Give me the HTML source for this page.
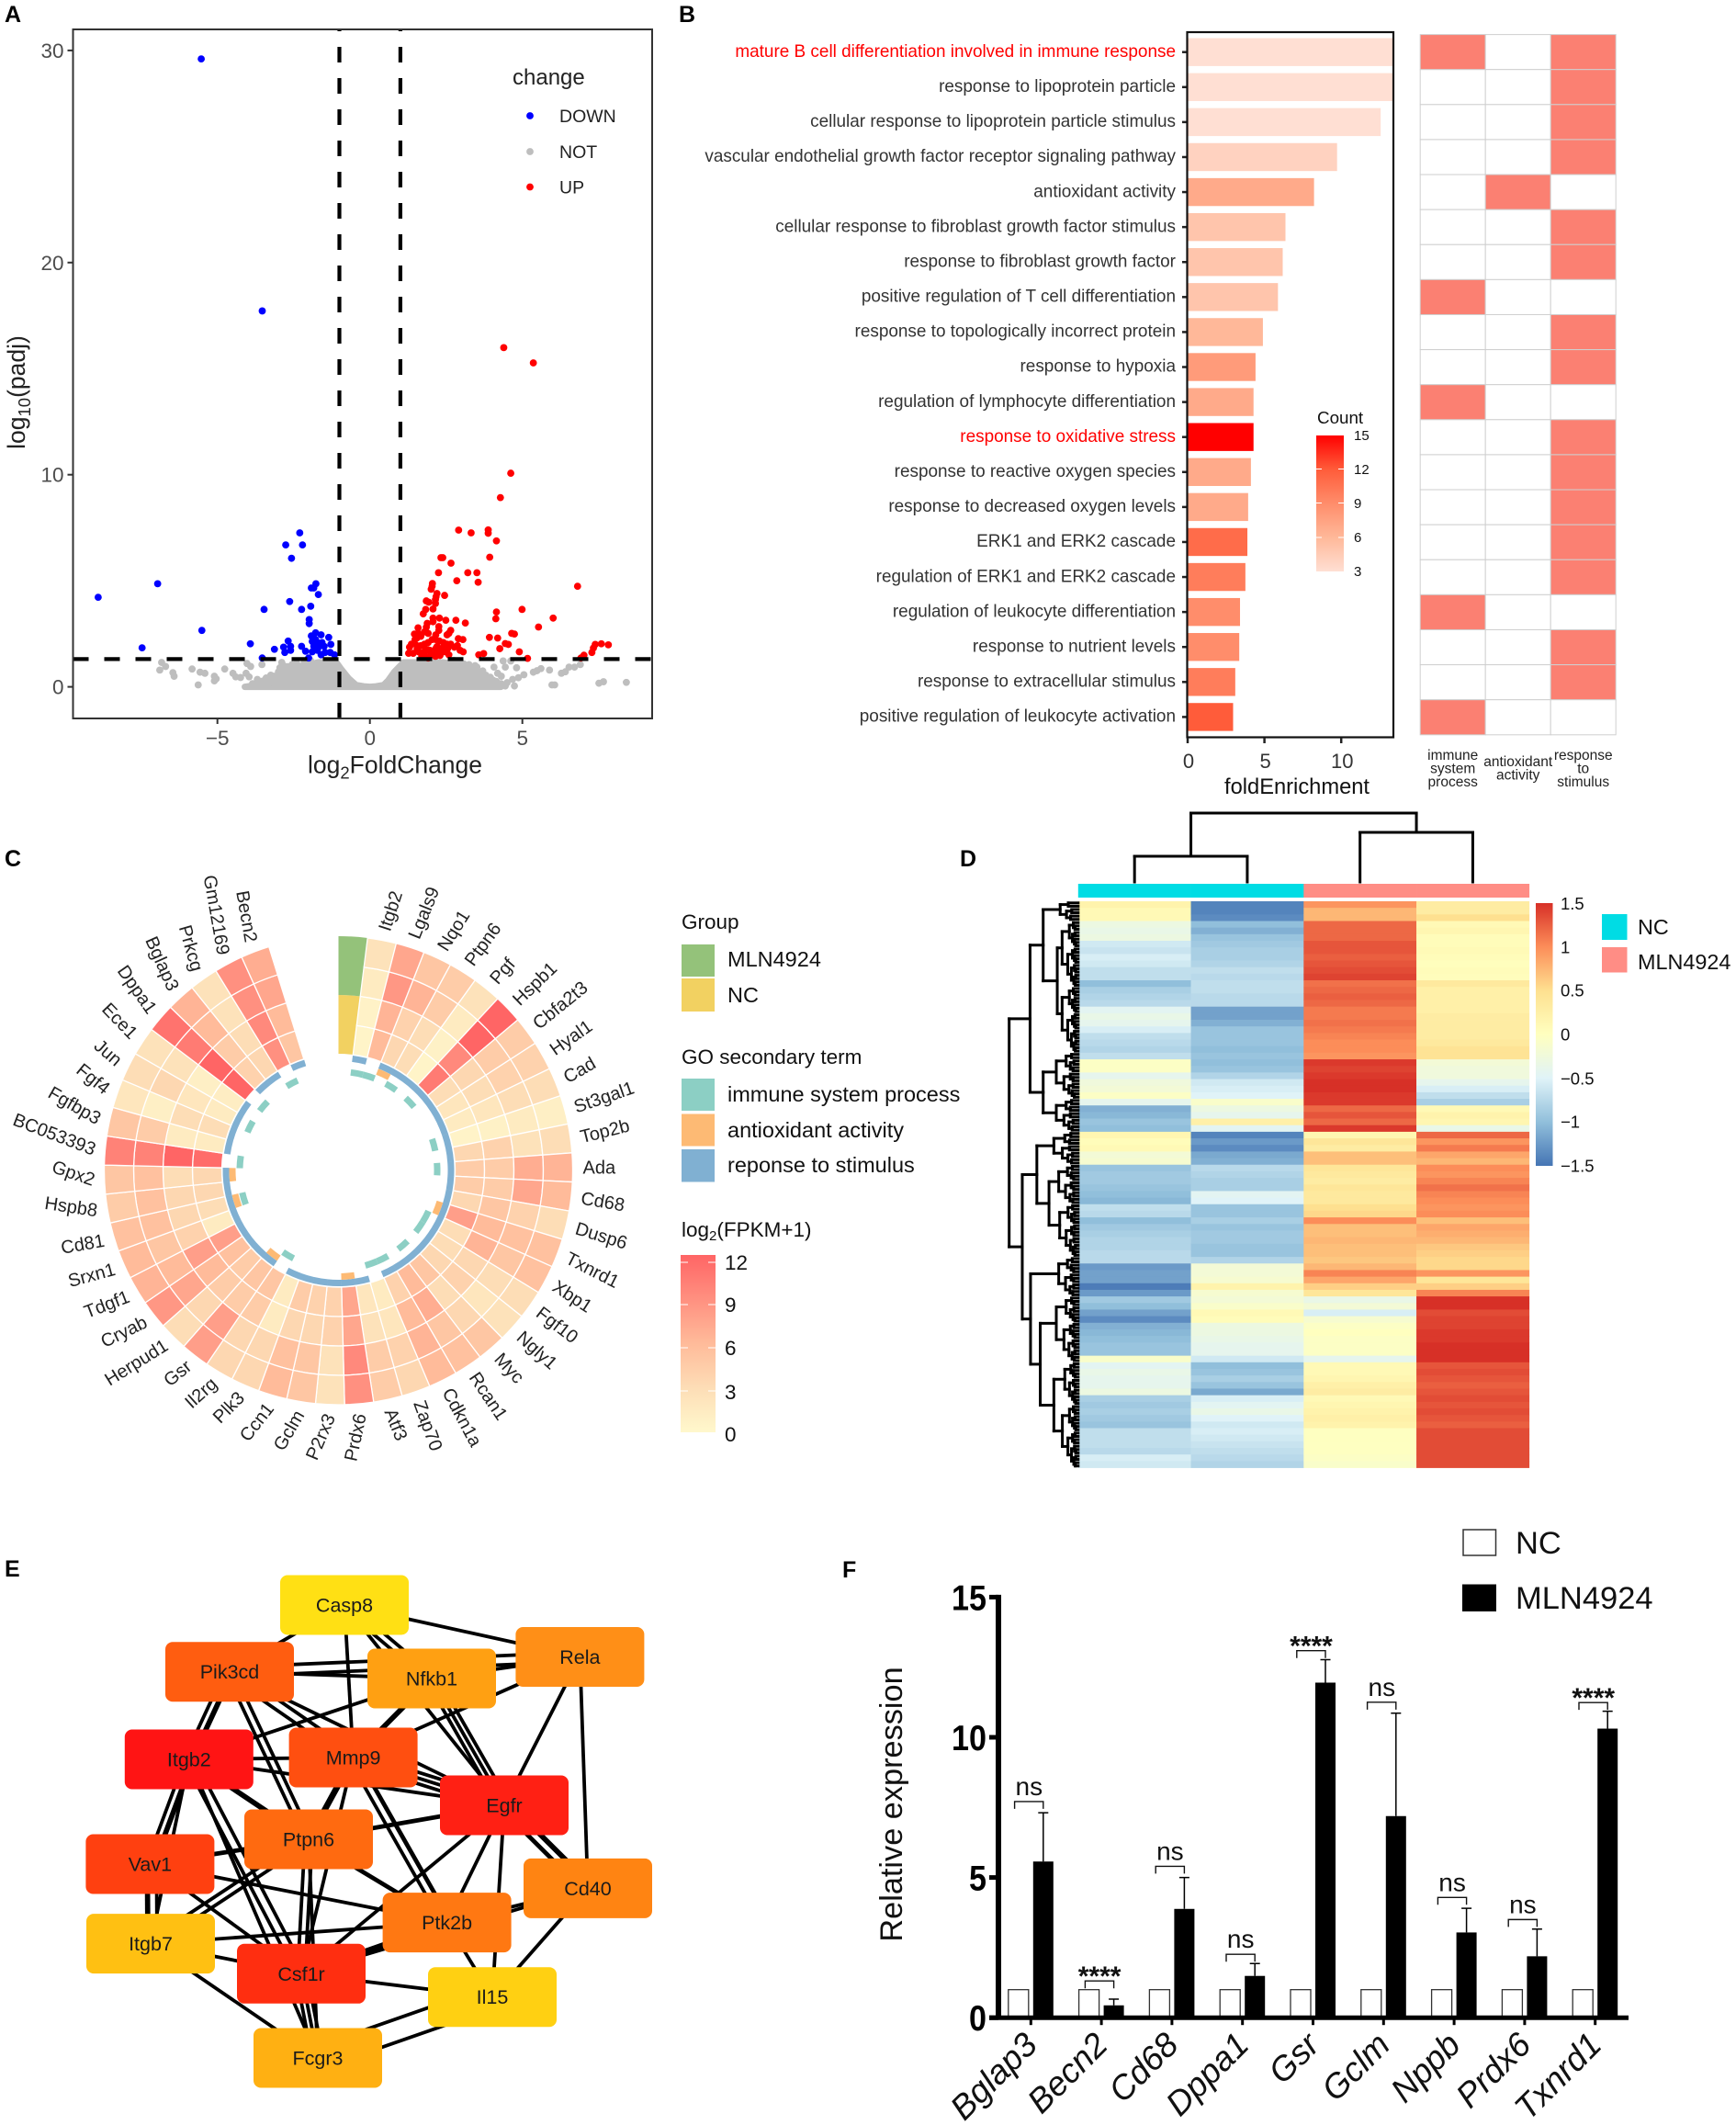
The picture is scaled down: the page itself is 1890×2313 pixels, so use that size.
<!DOCTYPE html>
<html lang="en">
<head>
<meta charset="utf-8">
<title>Multi-panel transcriptomic figure</title>
<style>
html,body{margin:0;padding:0;background:#fff;}
svg{display:block;}
text{font-family:"Liberation Sans",Arial,sans-serif;}
.panel-letter{font-weight:bold;font-size:25px;fill:#000;}
</style>
</head>
<body>
<svg id="figure" xmlns="http://www.w3.org/2000/svg" width="1890" height="2313" viewBox="0 0 1890 2313">
<defs>
<clipPath id="clip-b"><rect x="1292" y="35" width="225" height="768"/></clipPath>
<linearGradient id="grad-count" x1="0" y1="0" x2="0" y2="1">
<stop offset="0" stop-color="#ff0000"/><stop offset="0.25" stop-color="#ff5c3a"/><stop offset="0.5" stop-color="#ff8d6b"/><stop offset="0.75" stop-color="#ffb899"/><stop offset="1" stop-color="#ffdfd3"/>
</linearGradient>
<linearGradient id="grad-fpkm" x1="0" y1="0" x2="0" y2="1">
<stop offset="0" stop-color="#ff6565"/><stop offset="0.25" stop-color="#ff9080"/><stop offset="0.5" stop-color="#ffbb9a"/><stop offset="0.75" stop-color="#fdddb6"/><stop offset="1" stop-color="#fff8cc"/>
</linearGradient>
<linearGradient id="grad-z" x1="0" y1="0" x2="0" y2="1">
<stop offset="0" stop-color="#d73027"/><stop offset="0.1667" stop-color="#fc8d59"/><stop offset="0.3333" stop-color="#fee090"/><stop offset="0.5" stop-color="#ffffbf"/><stop offset="0.6667" stop-color="#e0f3f8"/><stop offset="0.8333" stop-color="#91bfdb"/><stop offset="1" stop-color="#4575b4"/>
</linearGradient>
</defs>

<text class="panel-letter" x="5" y="24">A</text>
<text class="panel-letter" x="739" y="24">B</text>
<text class="panel-letter" x="5" y="943">C</text>
<text class="panel-letter" x="1045" y="943">D</text>
<text class="panel-letter" x="5" y="1716">E</text>
<text class="panel-letter" x="917" y="1717">F</text>

<!-- Panel A -->
<g id="panel-a"></g>
<text x="430" y="841.500" text-anchor="middle" font-size="26.5" fill="#222">log<tspan font-size="18.5" dy="6">2</tspan><tspan dy="-6">FoldChange</tspan></text>
<text transform="translate(27,427) rotate(-90)" text-anchor="middle" font-size="26.5" fill="#222">log<tspan font-size="18.5" dy="6">10</tspan><tspan dy="-6">(padj)</tspan></text>
<g>
<text x="558" y="92" font-size="24" fill="#222">change</text>
<circle cx="577" cy="126" r="3.9" fill="#0000ff"/>
<circle cx="577" cy="165" r="3.9" fill="#bebebe"/>
<circle cx="577" cy="203.5" r="3.9" fill="#ff0000"/>
<text x="609" y="133" font-size="19.500" fill="#222">DOWN</text>
<text x="609" y="172" font-size="19.500" fill="#222">NOT</text>
<text x="609" y="210.500" font-size="19.500" fill="#222">UP</text>
</g>

<!-- Panel B -->
<g id="panel-b"></g>
<text x="1412" y="864" text-anchor="middle" font-size="23.7" fill="#111">foldEnrichment</text>
<g id="panel-b-matrix"></g>
<g>
<text x="1434" y="461" font-size="18.800" fill="#111">Count</text>
<rect x="1433" y="474" width="30" height="148" fill="url(#grad-count)"/>
<text x="1474" y="479" font-size="15" fill="#111">15</text>
<text x="1474" y="516" font-size="15" fill="#111">12</text>
<text x="1474" y="553" font-size="15" fill="#111">9</text>
<text x="1474" y="590" font-size="15" fill="#111">6</text>
<text x="1474" y="627" font-size="15" fill="#111">3</text>
<path d="M1433 510.500h6M1457 510.500h6M1433 547.500h6M1457 547.500h6M1433 585h6M1457 585h6" stroke="#fff" stroke-width="1"/>
</g>

<!-- Panel C -->
<g id="panel-c"></g>
<g>
<text x="742" y="1011" font-size="22.500" fill="#111">Group</text>
<rect x="742" y="1028" width="36" height="35" fill="#94c27a"/>
<rect x="742" y="1065" width="36" height="36" fill="#f2d161"/>
<text x="792" y="1052" font-size="23.500" fill="#111">MLN4924</text>
<text x="792" y="1091" font-size="23.500" fill="#111">NC</text>
<text x="742" y="1158" font-size="22.500" fill="#111">GO secondary term</text>
<rect x="742" y="1174" width="36" height="35" fill="#8ccfc4"/>
<rect x="742" y="1212.500" width="36" height="35" fill="#fdba74"/>
<rect x="742" y="1251" width="36" height="35.500" fill="#80b0d2"/>
<text x="792" y="1199" font-size="23.500" fill="#111">immune system process</text>
<text x="792" y="1238" font-size="23.500" fill="#111">antioxidant activity</text>
<text x="792" y="1276" font-size="23.500" fill="#111">reponse to stimulus</text>
<text x="742" y="1346" font-size="22.500" fill="#111">log<tspan font-size="15" dy="4">2</tspan><tspan dy="-4">(FPKM+1)</tspan></text>
<rect x="741" y="1366" width="38" height="193" fill="url(#grad-fpkm)"/>
<path d="M741 1374h8M771 1374h8M741 1420h8M771 1420h8M741 1467h8M771 1467h8M741 1514h8M771 1514h8" stroke="#fff" stroke-width="1"/>
<text x="789" y="1382" font-size="22.500" fill="#111">12</text>
<text x="789" y="1428" font-size="22.500" fill="#111">9</text>
<text x="789" y="1475" font-size="22.500" fill="#111">6</text>
<text x="789" y="1523" font-size="22.500" fill="#111">3</text>
<text x="789" y="1569" font-size="22.500" fill="#111">0</text>
</g>

<!-- Panel D -->
<g id="panel-d"></g>
<g>
<rect x="1672" y="983" width="18.500" height="286" fill="url(#grad-z)"/>
<text x="1699" y="990" font-size="18.500" fill="#111">1.5</text>
<text x="1699" y="1037.500" font-size="18.500" fill="#111">1</text>
<text x="1699" y="1084.500" font-size="18.500" fill="#111">0.5</text>
<text x="1699" y="1132.500" font-size="18.500" fill="#111">0</text>
<text x="1699" y="1180.500" font-size="18.500" fill="#111">−0.5</text>
<text x="1699" y="1227.500" font-size="18.500" fill="#111">−1</text>
<text x="1699" y="1275.500" font-size="18.500" fill="#111">−1.5</text>
<rect x="1744" y="995" width="27.500" height="28" fill="#00dce4"/>
<rect x="1744" y="1031" width="27.500" height="27.500" fill="#ff8d85"/>
<text x="1783" y="1017" font-size="23.400" fill="#111">NC</text>
<text x="1783" y="1055" font-size="23.400" fill="#111">MLN4924</text>
</g>

<!-- Panel E -->
<g id="panel-e"></g>

<!-- Panel F -->
<g id="panel-f"></g>
<text transform="translate(982,1964) rotate(-90)" text-anchor="middle" font-size="34.3" fill="#111">Relative expression</text>
<g>
<rect x="1593" y="1665" width="35.500" height="28" fill="#fff" stroke="#333" stroke-width="1.500"/>
<rect x="1592" y="1724.500" width="37" height="29.500" fill="#000"/>
<text x="1650" y="1691" font-size="34.500" fill="#111">NC</text>
<text x="1650" y="1751" font-size="34.500" fill="#111">MLN4924</text>
</g>

<script>
/* ---------- Panel A data ---------- */
const volcanoDownX = [-5.53,-3.53,-8.91,-6.96,-5.51,-7.47,-3.92,-3.47,-3.53,-3.13,-2.83,-2.79,-2.68,-2.60,-2.60,-2.63,-2.76,-2.21,-2.30,-2.57,-2.24,-1.94,-1.99,-1.99,-1.92,-1.84,-1.77,-1.69,-2.24,-2.11,-2.01,-1.89,-1.92,-1.84,-1.89,-1.78,-1.72,-1.60,-1.35,-1.28,-1.50,-1.66,-1.84,-1.72,-1.47,-1.30,-1.16,-1.60,-1.78,-1.57];
const volcanoDownY = [29.6,17.72,4.22,4.86,2.66,1.84,2.03,3.65,1.36,1.77,1.87,1.62,2.16,1.91,1.72,4.02,6.69,6.69,7.26,6.06,3.65,3.80,3.17,2.98,4.66,4.66,4.86,4.35,1.91,1.68,1.36,1.65,2.40,2.23,2.14,2.55,2.09,2.45,2.33,2.0,1.91,1.91,1.91,1.72,1.62,1.62,1.51,1.51,2.23,2.09];
const volcanoUpX = [4.39,5.36,4.62,4.28,2.91,3.32,3.88,3.88,4.15,3.93,2.33,2.39,2.66,2.25,3.21,3.51,2.85,3.55,2.05,2.04,2.01,6.81,2.20,2.17,2.45,2.15,2.15,1.85,1.93,2.07,1.83,1.75,4.15,4.99,4.13,6.01,2.82,3.13,2.49,2.28,2.07,2.07,1.88,2.26,1.85,5.53,1.58,1.46,1.58,2.65,2.59,2.53,2.26,2.16,1.91,1.79,1.67,1.54,1.48,4.65,4.74,3.92,4.19,2.90,3.05,4.44,4.54,4.26,4.90,5.17,3.73,3.57,2.87,2.77,2.65,2.53,2.41,2.28,2.16,2.04,1.91,1.79,1.67,1.54,1.36,1.30,1.27,1.42,1.60,1.79,1.97,2.16,2.34,2.59,2.96,3.06,2.10,1.91,2.28,2.46,7.02,6.92,7.28,7.33,7.39,7.59,7.82,1.7,1.85,2.0,2.15,2.3,1.55,1.75,1.9,2.2,2.4,2.55];
const volcanoUpY = [15.99,15.27,10.07,8.92,7.39,7.26,7.40,7.24,6.88,6.11,6.09,6.09,5.83,5.38,5.38,5.38,5.0,4.93,4.87,4.74,4.6,4.74,4.4,4.25,4.31,4.11,3.93,4.05,3.99,3.67,3.65,3.44,3.53,3.65,3.21,3.24,3.14,3.01,3.14,3.24,3.24,3.07,2.99,2.84,2.81,2.82,2.78,2.49,2.52,2.66,2.52,2.45,2.66,2.45,2.52,2.59,2.38,2.3,2.23,2.52,2.49,2.33,2.3,2.27,2.23,2.04,2.0,1.8,1.65,1.34,1.57,1.51,1.94,1.87,2.01,2.01,2.09,2.16,2.23,2.23,2.09,2.01,1.94,1.94,2.01,1.87,1.58,1.58,1.65,1.65,1.72,1.8,1.72,1.51,1.72,1.65,1.51,1.36,1.58,1.65,1.49,1.36,1.62,1.83,2.0,2.03,1.98,1.45,1.42,1.5,1.44,1.48,1.8,1.95,1.75,1.9,1.85,1.8];
const volcanoNotX = [-6.83,-6.70,-6.89,-6.46,-6.42,-5.83,-5.57,-5.41,-5.63,-5.10,-5.04,-5.10,-4.76,-4.49,-4.40,-4.24,-4.03,-3.91,-3.54,-4.06,-3.96,-3.69,-3.50,-3.32,-3.13,-2.89,-2.83,-2.46,-2.27,-2.09,-2.33,-2.83,-3.07,3.08,3.33,3.51,3.64,3.82,3.94,4.07,4.19,4.31,4.44,4.37,4.62,4.81,4.44,4.74,4.68,4.87,5.05,5.36,5.48,5.61,5.89,6.28,6.41,6.53,6.71,6.90,5.97,6.06,7.51,7.66,8.41,-3.85,-3.6,-3.4,-3.25,-3.0,-2.95,-2.7,-2.55,-2.4,-2.3,-2.15,-1.95,-3.75,3.1,3.25,3.35,3.55,3.7,3.8,3.95,4.05,4.15,4.3,4.5,3.45,2.95,2.75];
const volcanoNotY = [1.15,.96,.79,.67,.50,.84,.69,.64,.09,.50,.38,.28,.84,.64,.47,.44,1.10,.96,1.05,.64,.47,.35,.28,.14,.50,1.15,1.0,.93,.96,1.08,.64,.64,.35,1.08,.64,.93,.50,.35,.07,.93,.64,.50,.93,1.22,1.22,.90,.04,.04,.35,.43,.57,.69,.76,.86,.79,.64,.71,.93,.93,1.05,.09,.09,.17,.24,.21,.15,.25,.42,.55,.7,.9,.95,1.05,1.1,.8,1.15,1.25,.08,.9,1.05,.85,.7,.75,.55,.45,.3,.25,.15,.2,1.0,1.2,1.25];
const volcanoDenseX = [-4.1,-3.7,-3.3,-3,-2.85,-2.5,-2.2,-2,-1.7,-1.1,-.95,-.7,-.45,-.2,0,.2,.45,.6,.8,1,1.1,2.4,3,3.2,3.6,4,4.3];
const volcanoDenseTop = [0,.08,.3,.55,.85,.8,.75,1.05,1.15,1.15,.85,.4,.08,.02,0,.02,.08,.3,.7,1,1.15,1.15,1.05,.8,.65,.35,0];
const volcanoXTicks = [-5,0,5];
const volcanoYTicks = [0,10,20,30];
const volcanoFoldCutoffs = [-1,1];
const volcanoPadjCutoff = 1.31;

/* ---------- Panel B data ---------- */
const goTerms = ["mature B cell differentiation involved in immune response","response to lipoprotein particle","cellular response to lipoprotein particle stimulus","vascular endothelial growth factor receptor signaling pathway","antioxidant activity","cellular response to fibroblast growth factor stimulus","response to fibroblast growth factor","positive regulation of T cell differentiation","response to topologically incorrect protein","response to hypoxia","regulation of lymphocyte differentiation","response to oxidative stress","response to reactive oxygen species","response to decreased oxygen levels","ERK1 and ERK2 cascade","regulation of ERK1 and ERK2 cascade","regulation of leukocyte differentiation","response to nutrient levels","response to extracellular stimulus","positive regulation of leukocyte activation"];
const foldEnrichment = [14.5,14.5,12.57,9.73,8.23,6.37,6.19,5.88,4.9,4.42,4.29,4.29,4.12,3.94,3.89,3.76,3.41,3.36,3.1,2.96];
const termCounts = [3,3,3,4,7,5,5,5,6,8,7,15,7,7,11,10,9,9,10,12];
const highlightedTerms = [0,11];
const foldTicks = [0,5,10];
const immuneTerms = [0,7,10,16,19];
const antioxidantTerms = [4];
const stimulusTerms = [0,1,2,3,5,6,8,9,11,12,13,14,15,17,18];
const matrixColumnLabels = [["immune","system","process"],["antioxidant","activity"],["response","to","stimulus"]];

/* ---------- Panel C data ---------- */
const circularGenes = ["Itgb2","Lgals9","Nqo1","Ptpn6","Pgf","Hspb1","Cbfa2t3","Hyal1","Cad","St3gal1","Top2b","Ada","Cd68","Dusp6","Txnrd1","Xbp1","Fgf10","Ngly1","Myc","Rcan1","Cdkn1a","Zap70","Atf3","Prdx6","P2rx3","Gclm","Ccn1","Plk3","Il2rg","Gsr","Herpud1","Cryab","Tdgf1","Srxn1","Cd81","Hspb8","Gpx2","BC053393","Fgfbp3","Fgf4","Jun","Ece1","Dppa1","Bglap3","Prkcg","Gm12169","Becn2"];
const ringNc1 = [.5,6,3.5,3,.5,10.5,3,2,1.5,.6,3.5,4.5,4.5,3.5,8,3,3,3.5,5,6,4,1.5,2,7.5,4,4,4.5,1.5,5,5,4.5,5.5,8,1.5,3,3.5,3.5,11.5,1.5,3,1.5,1.2,12,4,3.5,9,5];
const ringNc2 = [.7,6.5,4,3,.8,9.5,3.5,3,2,.8,4,4.5,4.5,5,6,6.5,3.5,4,3,7,6,2,2.5,7.5,4,3.5,3.5,1.5,4.5,4.5,4.5,6,8,4,3.5,3.5,3,12,1.5,3,2,1,12,4.5,3,9.5,6];
const ringMln1 = [1.5,8.5,6.5,4.5,1.5,12,4.5,4,3,1.5,2.5,7,7.5,4,5.5,5,3,2,3.5,5,6.5,4,4.5,9.5,2.5,5,5.5,3.5,3.5,8,3.5,7.5,6,5,5.5,5.5,5.5,10,4.5,1,3.5,2.5,10.5,6,2.5,9,7.5];
const ringMln2 = [2.5,7.5,5,4.5,2.5,12,4.5,4,3,1,3,6.5,6,3,5.5,5.5,3,2.5,5,5.5,6,3.5,4.5,9,2.5,5,6,3.5,3.5,8,3,8.5,6.5,6,5.5,4.5,5,10,5,2,3,2.5,11,6.5,2.5,9,7];
const genesWithoutStimulusTerm = ["Lgals9","Zap70","Il2rg","BC053393","Dppa1","Gm12169"];
const antioxidantGenes = ["Nqo1","Txnrd1","Prdx6","Gsr","Cd81","Gpx2"];
const immuneGenes = ["Itgb2","Lgals9","Ptpn6","Hspb1","St3gal1","Ada","Xbp1","Fgf10","Myc","Cdkn1a","Zap70","Il2rg","Cd81","BC053393","Jun","Dppa1","Gm12169"];
const geneLabelTilts = [-72,-68,-58,-54,-49,-44,-39,-35,-30,-19,-14,0,9.6,17,27,33,37.5,42,47,56,62,70,68,-78,-67,-60,-52,-45,-42,-39,-32,-26,-21,-15,-10,8.5,19,21,30,39,41,46,55,66,74,80,80];

/* ---------- Panel D data ---------- */
const zNc1 = [.2,.1,.1,-.3,-.35,-.3,-.6,-.65,-.55,-.6,-.7,-.7,-1.0,-.85,-.8,-.75,-.45,-.35,-.4,-.55,-.7,-.75,-.8,-.7,-.05,-.05,-.4,-.25,-.2,-.05,-.4,-1.1,-1.05,-.95,-1.0,.15,.05,.1,-.2,-.15,-.95,-.9,-.9,-.95,-1.0,-1.05,-.7,-.75,-1.0,-.9,-.85,-.8,-.8,-.75,-.75,-1.25,-1.2,-1.2,-1.45,-1.25,-.9,-1.0,-1.2,-1.35,-1.1,-1.05,-1.0,-.95,-.95,-.1,-.45,-.35,-.4,-.4,-.3,-.85,-.9,-.85,-.9,-.95,-.7,-.7,-.7,-.75,-.55,-.6];
const zNc2 = [-1.4,-1.4,-1.35,-1.0,-1.1,-.95,-.9,-.85,-.85,-.8,-.7,-.75,-.7,-.7,-.75,-.75,-1.2,-1.2,-1.1,-.95,-.95,-.95,-1.0,-.95,-1.0,-.95,-.8,-.6,-.55,-.5,-.1,-.3,-.4,.25,-.45,-1.4,-1.25,-1.35,-1.15,-1.1,-.75,-.8,-.85,-.85,-.45,-.5,-.95,-.95,-.85,-.95,-.9,-.9,-.95,-.95,-.8,-.2,-.2,-.15,.2,-.15,-.2,-.1,.1,.05,-.3,-.3,-.35,-.4,-.4,-.6,-1.0,-.95,-.85,-.95,-1.15,-.55,-.45,-.35,-.5,-.6,-.55,-.6,-.65,-.7,-.75,-.8];
const zMln1 = [.95,.75,.75,1.2,1.2,1.2,1.3,1.3,1.25,1.3,1.35,1.4,1.15,1.2,1.25,1.2,1.1,1.1,1.15,1.1,1.05,1.0,1.0,.95,1.45,1.4,1.45,1.5,1.5,1.45,1.45,1.2,1.3,1.2,1.45,.15,.4,.3,.7,.7,.4,.35,.3,.4,.35,.35,.5,.55,1.0,.7,.7,.75,.7,.7,.65,.75,1.05,.85,.6,.4,-.35,-.2,-.55,-.15,-.05,0,-.05,-.05,-.05,-.4,.1,.1,.15,.25,.3,.1,.15,.2,.25,.2,-.02,-.02,-.02,-.02,-.05,-.1];
const zMln2 = [.3,.3,.5,.1,.15,.05,.05,.08,.05,.02,.05,.03,.35,.25,.25,.25,.25,.3,.3,.3,.3,.35,.45,.45,-.2,-.25,-.25,-.4,-.55,-.7,-.85,.1,.2,.15,-.35,1.2,.95,1.1,.85,.75,1.0,.95,1.05,1.15,1.05,1.0,.95,1.0,.7,.85,.8,.75,.65,.6,.55,.55,.95,.4,.6,1.05,1.5,1.5,1.35,1.4,1.4,1.45,1.45,1.5,1.5,1.5,1.3,1.35,1.3,1.25,1.3,1.35,1.3,1.35,1.3,1.25,1.35,1.35,1.35,1.35,1.35,1.35];
const heatmapColumnGroups = ["NC","NC","MLN4924","MLN4924"];
const topTree = {h:75,kids:[{h:28,kids:[{h:0,col:0},{h:0,col:1}]},{h:54,kids:[{h:0,col:2},{h:0,col:3}]}]};
const rowTree = {h:142,kids:[
 {h:99,kids:[
  {h:72,kids:[{h:37,rows:[0,3]},{h:43,kids:[{h:33,rows:[3,13]},{h:33,rows:[13,23]}]}]},
  {h:72,kids:[{h:45,rows:[23,30]},{h:45,rows:[30,35]}]}]},
 {h:115,kids:[
  {h:85,kids:[{h:50,rows:[35,40]},{h:60,kids:[{h:40,rows:[40,46]},{h:38,rows:[46,54]}]}]},
  {h:98,kids:[{h:40,rows:[54,60]},{h:78,kids:[{h:45,rows:[60,70]},{h:50,rows:[70,86]}]}]}]}
]};

/* ---------- Panel E data ---------- */
const networkNodes = ["Casp8","Rela","Pik3cd","Nfkb1","Itgb2","Mmp9","Egfr","Ptpn6","Vav1","Cd40","Itgb7","Ptk2b","Csf1r","Il15","Fcgr3"];
const nodeXPos = [375,631.4,250,470,205.8,384.6,549,336,163.4,640,164,486.6,328,536,346];
const nodeYPos = [1747,1803.5,1819.7,1827,1915,1913,1965,2002,2029,2055.4,2115.6,2092.6,2148.3,2173.7,2240];
const nodeColors = ["#ffe014","#ff8f17","#ff5d10","#ffa012","#ff1414","#ff4f10","#ff2014","#ff6a10","#ff4010","#ff8412","#ffc012","#ff7812","#ff2e10","#ffd012","#ffb012"];
const networkEdges = [["Casp8","Rela",4,0],["Casp8","Pik3cd",4,0],["Casp8","Mmp9",4,0],["Casp8","Nfkb1",4,-4],["Casp8","Nfkb1",4,4],["Casp8","Egfr",4,0],["Pik3cd","Nfkb1",4,0],["Pik3cd","Rela",4,-5],["Pik3cd","Rela",4,5],["Nfkb1","Rela",4,0],["Rela","Egfr",4,0],["Rela","Cd40",4,0],["Rela","Mmp9",4,0],["Nfkb1","Itgb2",4,0],["Nfkb1","Mmp9",6,0],["Nfkb1","Egfr",4,-6],["Nfkb1","Egfr",4,0],["Nfkb1","Egfr",4,6],["Pik3cd","Itgb2",6,-3],["Pik3cd","Itgb2",4,5],["Pik3cd","Mmp9",4,-5],["Pik3cd","Mmp9",4,5],["Pik3cd","Ptpn6",4,-4],["Pik3cd","Ptpn6",4,4],["Pik3cd","Egfr",4,0],["Itgb2","Mmp9",4,0],["Itgb2","Ptpn6",6,0],["Itgb2","Egfr",4,0],["Itgb2","Vav1",6,-4],["Itgb2","Vav1",4,4],["Itgb2","Itgb7",4,0],["Itgb2","Csf1r",4,-5],["Itgb2","Csf1r",4,5],["Itgb2","Fcgr3",4,0],["Mmp9","Ptpn6",7,0],["Mmp9","Egfr",4,-6],["Mmp9","Egfr",4,0],["Mmp9","Egfr",4,6],["Mmp9","Ptk2b",5,-4],["Mmp9","Ptk2b",4,5],["Mmp9","Csf1r",4,0],["Egfr","Ptpn6",5,0],["Egfr","Cd40",6,-5],["Egfr","Cd40",5,5],["Egfr","Ptk2b",4,0],["Egfr","Il15",4,0],["Egfr","Csf1r",4,0],["Ptpn6","Vav1",5,0],["Ptpn6","Ptk2b",5,0],["Ptpn6","Itgb7",4,-4],["Ptpn6","Itgb7",4,4],["Ptpn6","Csf1r",4,-4],["Ptpn6","Csf1r",4,4],["Ptpn6","Fcgr3",4,0],["Vav1","Itgb7",6,3],["Vav1","Itgb7",4,-7],["Vav1","Ptk2b",4,0],["Vav1","Csf1r",4,0],["Itgb7","Ptk2b",4,0],["Itgb7","Csf1r",4,0],["Itgb7","Fcgr3",4,0],["Ptk2b","Csf1r",6,0],["Ptk2b","Cd40",4,0],["Ptk2b","Il15",4,0],["Csf1r","Il15",4,0],["Csf1r","Fcgr3",4,-6],["Csf1r","Fcgr3",4,0],["Csf1r","Fcgr3",4,6],["Il15","Fcgr3",4,-12],["Il15","Fcgr3",4,12],["Cd40","Il15",4,0],["Cd40","Csf1r",4,0]];

/* ---------- Panel F data ---------- */
const qpcrGenes = ["Bglap3","Becn2","Cd68","Dppa1","Gsr","Gclm","Nppb","Prdx6","Txnrd1"];
const qpcrNc = [1,1,1,1,1,1,1,1,1];
const qpcrMln = [5.57,.44,3.88,1.49,11.95,7.19,3.04,2.19,10.31];
const qpcrErr = [1.74,.22,1.12,.44,.82,3.67,.86,.97,.62];
const qpcrSignificance = ["ns","****","ns","ns","****","ns","ns","ns","****"];
const qpcrBracketLevel = [7.71,1.31,5.4,2.26,13.09,11.25,4.29,3.5,11.24];
const qpcrYTicks = [0,5,10,15];

/* ---------- helpers ---------- */
const NS = 'http://www.w3.org/2000/svg';
function make(tag, parent, attrs, text) {
  const el = document.createElementNS(NS, tag);
  for (const k in attrs) el.setAttribute(k, attrs[k]);
  if (text !== undefined) el.textContent = text;
  parent.appendChild(el);
  return el;
}
function hexToRgb(h) { return [parseInt(h.slice(1,3),16),parseInt(h.slice(3,5),16),parseInt(h.slice(5,7),16)]; }
function ramp(stopsV, stopsC, v) {
  if (v <= stopsV[0]) return stopsC[0];
  for (let i = 1; i < stopsV.length; i++) {
    if (v <= stopsV[i]) {
      const t = (v - stopsV[i-1]) / (stopsV[i] - stopsV[i-1]);
      const a = hexToRgb(stopsC[i-1]), b = hexToRgb(stopsC[i]);
      return 'rgb(' + a.map((c, n) => Math.round(c + (b[n]-c)*t)).join(',') + ')';
    }
  }
  return stopsC[stopsC.length-1];
}

/* ---------- Panel A ---------- */
(function () {
  const g = document.getElementById('panel-a');
  const xA = v => 402.7 + v * 33.2;
  const yA = v => 747.6 - v * 23.09;
  const left = 79.5, right = 710, top = 32, bottom = 782;
  const dotR = 3.9;

  let d = 'M' + xA(volcanoDenseX[0]) + ' ' + yA(0);
  volcanoDenseX.forEach((x, i) => { d += 'L' + xA(x) + ' ' + yA(volcanoDenseTop[i]); });
  d += 'L' + xA(volcanoDenseX[volcanoDenseX.length-1]) + ' ' + yA(0) + 'Z';
  const dense = make('path', g, {d: d, fill: '#bebebe', stroke: '#bebebe', 'stroke-width': 7, 'stroke-linejoin': 'round'});
  
  

  volcanoNotX.forEach((x, i) => {
    const c = make('circle', g, {cx: xA(x), cy: yA(volcanoNotY[i]), r: dotR, fill: '#bebebe'});
    
    
  });
  volcanoDownX.forEach((x, i) => {
    const c = make('circle', g, {cx: xA(x), cy: yA(volcanoDownY[i]), r: dotR, fill: '#0000ff'});
    
    
  });
  volcanoUpX.forEach((x, i) => {
    const c = make('circle', g, {cx: xA(x), cy: yA(volcanoUpY[i]), r: dotR, fill: '#ff0000'});
    
    
  });
  volcanoFoldCutoffs.forEach(v => {
    const l = make('line', g, {x1: xA(v), x2: xA(v), y1: bottom, y2: top, stroke: '#000', 'stroke-width': 4.2, 'stroke-dasharray': '17 17'});
    
    
  });
  const hl = make('line', g, {x1: left, x2: right, y1: yA(volcanoPadjCutoff), y2: yA(volcanoPadjCutoff), stroke: '#000', 'stroke-width': 4.2, 'stroke-dasharray': '17 17'});
  
  

  const box = make('rect', g, {x: left, y: top, width: right-left, height: bottom-top, fill: 'none', stroke: '#333', 'stroke-width': 2});
  
  

  volcanoXTicks.forEach(v => {
    const t = make('line', g, {x1: xA(v), x2: xA(v), y1: bottom, y2: bottom+6, stroke: '#333', 'stroke-width': 2});
    
    
    const lab = make('text', g, {x: xA(v), y: bottom+29, 'text-anchor': 'middle', 'font-size': 22.5, fill: '#4d4d4d'}, v < 0 ? '−' + (-v) : String(v));
    
    
  });
  volcanoYTicks.forEach(v => {
    const t = make('line', g, {x1: left-6, x2: left, y1: yA(v), y2: yA(v), stroke: '#333', 'stroke-width': 2});
    
    
    const lab = make('text', g, {x: left-10, y: yA(v)+8, 'text-anchor': 'end', 'font-size': 22.5, fill: '#4d4d4d'}, String(v));
    
    
  });
})();

/* ---------- Panel B ---------- */
(function () {
  const g = document.getElementById('panel-b');
  const xB = v => 1293 + v * 16.72;
  const yB = i => 56.7 + i * 38.09;
  const countStops = [3,6,9,12,15];
  const countColors = ['#ffdfd3','#ffb899','#ff8d6b','#ff5c3a','#ff0000'];
  const bars = make('g', g, {'clip-path': 'url(#clip-b)'});
  
  
  goTerms.forEach((term, i) => {
    const r = make('rect', bars, {x: xB(0), y: yB(i)-15.2, width: xB(foldEnrichment[i])-xB(0), height: 30.4, fill: ramp(countStops, countColors, termCounts[i])});
    
    
    const t = make('text', g, {x: 1280, y: yB(i)+5.2, 'text-anchor': 'end', 'font-size': 18.95, fill: highlightedTerms.includes(i) ? '#ff0000' : '#333'}, term);
    
    
    const tk = make('line', g, {x1: 1287, x2: 1292, y1: yB(i), y2: yB(i), stroke: '#222', 'stroke-width': 2.5});
    
    
  });
  const box = make('rect', g, {x: 1292.5, y: 35, width: 224.5, height: 767.5, fill: 'none', stroke: '#111', 'stroke-width': 2.2});
  
  
  foldTicks.forEach(v => {
    const tk = make('line', g, {x1: xB(v), x2: xB(v), y1: 803, y2: 809, stroke: '#222', 'stroke-width': 2.5});
    
    
    const lab = make('text', g, {x: xB(v)+1, y: 836, 'text-anchor': 'middle', 'font-size': 22, fill: '#333'}, String(v));
    
    
  });

  const m = document.getElementById('panel-b-matrix');
  const colX = c => 1546.2 + c * 71;
  const rowY = i => 37.6 + i * 38.11;
  const colSets = [immuneTerms, antioxidantTerms, stimulusTerms];
  colSets.forEach((set, c) => {
    goTerms.forEach((term, i) => {
      const r = make('rect', m, {x: colX(c), y: rowY(i), width: 71, height: 38.11, fill: set.includes(i) ? '#fb8072' : '#ffffff', stroke: '#cfcfcf', 'stroke-width': 1});
      
      
    });
    const lines = matrixColumnLabels[c];
    lines.forEach((line, n) => {
      const y0 = lines.length === 3 ? 827 : 834;
      const t = make('text', m, {x: colX(c)+35.5, y: y0 + n*14.5, 'text-anchor': 'middle', 'font-size': 15.5, fill: '#222'}, line);
      
      
    });
  });
})();

/* ---------- Panel C ---------- */
(function () {
  const g = document.getElementById('panel-c');
  const cx = 368.5, cy = 1274, sector = 7.14;
  const fpkmStops = [0,3,6,9,12];
  const fpkmColors = ['#fff8cc','#fdddb6','#ffbb9a','#ff9080','#ff6565'];
  function polar(r, deg) { const a = deg * Math.PI / 180; return [cx + r * Math.sin(a), cy - r * Math.cos(a)]; }
  function arc(r0, r1, a0, a1) {
    const p0 = polar(r1, a0), p1 = polar(r1, a1), p2 = polar(r0, a1), p3 = polar(r0, a0);
    return 'M' + p0 + 'A' + r1 + ' ' + r1 + ' 0 0 1 ' + p1 + 'L' + p2 + 'A' + r0 + ' ' + r0 + ' 0 0 0 ' + p3 + 'Z';
  }
  const ringAt = j => 127 + 32 * j;
  const rings = [ringNc1, ringNc2, ringMln1, ringMln2];
  const nc = make('path', g, {d: arc(ringAt(0), ringAt(2), 0, sector), fill: '#f2d161'});
  
  
  const mln = make('path', g, {d: arc(ringAt(2), ringAt(4), 0, sector), fill: '#94c27a'});
  
  

  circularGenes.forEach((gene, i) => {
    const a0 = (i + 1) * sector, a1 = a0 + sector, mid = a0 + sector / 2;
    rings.forEach((ring, j) => {
      const p = make('path', g, {d: arc(ringAt(j), ringAt(j+1), a0, a1), fill: ramp(fpkmStops, fpkmColors, ring[i]), stroke: '#fff', 'stroke-width': 1.3});
      
      
    });
    if (!genesWithoutStimulusTerm.includes(gene)) {
      const s = make('path', g, {d: arc(119, 126, a0-0.05, a1+0.05), fill: '#80b0d2'});
      
      
    }
    if (antioxidantGenes.includes(gene)) {
      const s = make('path', g, {d: arc(112, 119, a0, a1), fill: '#fdba74'});
      
      
    }
    if (immuneGenes.includes(gene)) {
      const s = make('path', g, {d: arc(104, 111, a0, a1), fill: '#8ccfc4'});
      
      
    }
    const p = polar(266, mid);
    const outward = i < 23;
    const t = make('text', g, {x: 0, y: 0, dy: '0.35em', transform: 'translate(' + p[0] + ',' + p[1] + ') rotate(' + geneLabelTilts[i] + ')', 'text-anchor': outward ? 'start' : 'end', 'font-size': 20, fill: '#222'}, gene);
    
    
  });
})();

/* ---------- Panel D ---------- */
(function () {
  const g = document.getElementById('panel-d');
  const left = 1173.8, colW = 122.75, top = 981, rowH = 616.5 / zNc1.length;
  const zStops = [-1.5,-1,-.5,0,.5,1,1.5];
  const zColors = ['#4575b4','#91bfdb','#e0f3f8','#ffffbf','#fee090','#fc8d59','#d73027'];
  const cols = [zNc1, zNc2, zMln1, zMln2];
  const colX = c => left + c * colW;
  const rowY = r => top + r * rowH;
  heatmapColumnGroups.forEach((grp, c) => {
    const a = make('rect', g, {x: colX(c), y: 962, width: colW + 0.3, height: 15, fill: grp === 'NC' ? '#00dce4' : '#ff8d85'});
    
    
    cols[c].forEach((v, r) => {
      const rc = make('rect', g, {x: colX(c), y: rowY(r), width: colW + 0.3, height: rowH + 0.4, fill: ramp(zStops, zColors, v)});
      
      
    });
  });

  const dark = {stroke: '#000', 'stroke-width': 3, fill: 'none', 'stroke-linecap': 'square'};
  function seg(x1, y1, x2, y2, name) {
    const l = make('line', g, Object.assign({x1: x1, y1: y1, x2: x2, y2: y2}, dark));
    
    
  }
  const xTop = c => left + (c + 0.5) * colW;
  const yTop = h => 960 - h;
  function drawTop(n) {
    if (n.col !== undefined) return {x: xTop(n.col), h: 0};
    const a = drawTop(n.kids[0]), b = drawTop(n.kids[1]);
    seg(a.x, yTop(n.h), b.x, yTop(n.h), 'column-dendrogram-branch');
    seg(a.x, yTop(n.h), a.x, yTop(a.h), 'column-dendrogram-branch');
    seg(b.x, yTop(n.h), b.x, yTop(b.h), 'column-dendrogram-branch');
    return {x: (a.x + b.x) / 2, h: n.h};
  }
  drawTop(topTree);

  const xRow = h => left - h * 0.529;
  function drawRow(n) {
    let a, b;
    if (n.rows) {
      const from = n.rows[0], to = n.rows[1];
      if (to - from <= 0.5) return {y: rowY((from + to) / 2), h: 0};
      const mid = from + Math.max(0.5, Math.round((to - from) * 0.8) / 2);
      a = drawRow({h: n.h * 0.55, rows: [from, mid]});
      b = drawRow({h: n.h * 0.65, rows: [mid, to]});
    } else {
      a = drawRow(n.kids[0]);
      b = drawRow(n.kids[1]);
    }
    seg(xRow(n.h), a.y, xRow(n.h), b.y, 'row-dendrogram-branch');
    seg(xRow(n.h), a.y, xRow(a.h), a.y, 'row-dendrogram-branch');
    seg(xRow(n.h), b.y, xRow(b.h), b.y, 'row-dendrogram-branch');
    return {y: (a.y + b.y) / 2, h: n.h};
  }
  drawRow(rowTree);
})();

/* ---------- Panel E ---------- */
(function () {
  const g = document.getElementById('panel-e');
  const w = 140, h = 65;
  const idx = name => networkNodes.indexOf(name);
  networkEdges.forEach(e => {
    const a = idx(e[0]), b = idx(e[1]);
    const dx = nodeXPos[b] - nodeXPos[a], dy = nodeYPos[b] - nodeYPos[a], len = Math.hypot(dx, dy);
    const ox = -dy / len * e[3], oy = dx / len * e[3];
    const l = make('line', g, {x1: nodeXPos[a] + ox, y1: nodeYPos[a] + oy, x2: nodeXPos[b] + ox, y2: nodeYPos[b] + oy, stroke: '#000', 'stroke-width': e[2] * 0.95});
    
    
  });
  networkNodes.forEach((name, i) => {
    const r = make('rect', g, {x: nodeXPos[i] - w/2, y: nodeYPos[i] - h/2, width: w, height: h, rx: 8, ry: 8, fill: nodeColors[i]});
    
    
    const t = make('text', g, {x: nodeXPos[i], y: nodeYPos[i] + 7.5, 'text-anchor': 'middle', 'font-size': 21.5, fill: '#1a1a1a'}, name);
    
    
  });
})();

/* ---------- Panel F ---------- */
(function () {
  const g = document.getElementById('panel-f');
  const yF = v => 2196.2 - v * 30.52;
  const xF = i => 1122.3 + i * 76.8;
  const barW = 22, gap = 13.5;
  qpcrGenes.forEach((gene, i) => {
    const c = xF(i);
    const nc = make('rect', g, {x: c - gap - barW/2, y: yF(qpcrNc[i]), width: barW, height: yF(0) - yF(qpcrNc[i]), fill: '#fff', stroke: '#333', 'stroke-width': 1.3});
    
    
    const m = make('rect', g, {x: c + gap - barW/2, y: yF(qpcrMln[i]), width: barW, height: yF(0) - yF(qpcrMln[i]), fill: '#000'});
    
    
    const top = qpcrMln[i] + qpcrErr[i];
    const er = make('path', g, {d: 'M' + (c+gap) + ' ' + yF(qpcrMln[i]) + 'V' + yF(top) + 'M' + (c+gap-5.5) + ' ' + yF(top) + 'H' + (c+gap+5.5), stroke: '#000', 'stroke-width': 1.5, fill: 'none'});
    
    
    const by = yF(qpcrBracketLevel[i]);
    const br = make('path', g, {d: 'M' + (c-17.7) + ' ' + (by+8) + 'V' + by + 'H' + (c+13.5) + 'V' + (by+8), stroke: '#111', 'stroke-width': 1.4, fill: 'none'});
    
    
    const stars = qpcrSignificance[i] !== 'ns';
    const st = make('text', g, {x: c - 2, y: stars ? by + 5 : by - 7, 'text-anchor': 'middle', 'font-size': stars ? 30 : 28, 'font-weight': stars ? 'bold' : 'normal', fill: '#111'}, qpcrSignificance[i]);
    
    
    const tk = make('line', g, {x1: c, x2: c, y1: yF(0), y2: yF(0) + 8, stroke: '#000', 'stroke-width': 3});
    
    
    const lab = make('text', g, {x: 0, y: 0, transform: 'translate(' + (c + 9) + ',2228) rotate(-45)', 'text-anchor': 'end', 'font-size': 37, 'font-style': 'italic', fill: '#111'}, gene);
    
    
  });
  const ax = make('line', g, {x1: 1077, x2: 1773, y1: yF(0), y2: yF(0), stroke: '#000', 'stroke-width': 5});
  
  
  const ay = make('line', g, {x1: 1087, x2: 1087, y1: yF(15) - 2.5, y2: yF(0), stroke: '#000', 'stroke-width': 6});
  
  
  qpcrYTicks.forEach(v => {
    const tk = make('line', g, {x1: 1077, x2: 1087, y1: yF(v), y2: yF(v), stroke: '#000', 'stroke-width': 5});
    
    
    const s = String(v);
    const lab = make('text', g, {x: 1074, y: yF(v) + 14, 'text-anchor': 'end', 'font-size': 39, 'font-weight': 'bold', fill: '#000', textLength: 19 * s.length, lengthAdjust: 'spacingAndGlyphs'}, s);
    
    
  });
})();
</script>
</svg>
</body>
</html>
